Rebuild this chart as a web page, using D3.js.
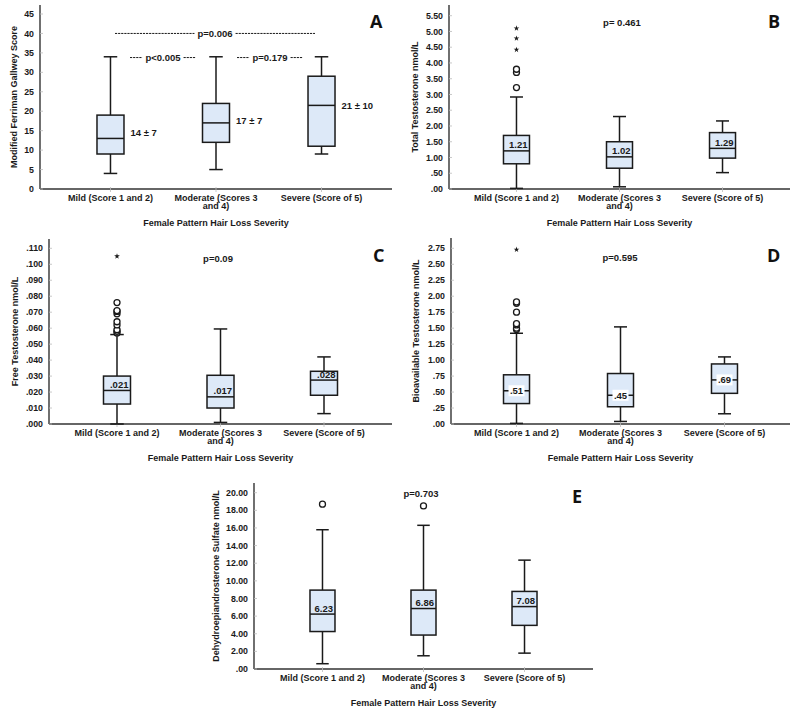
<!DOCTYPE html>
<html><head><meta charset="utf-8">
<script src="https://cdn.jsdelivr.net/npm/d3@7"></script>
<style>body{margin:0;background:#fff}svg{display:block}</style>
</head><body>
<svg id="c" width="800" height="714"></svg>
<script>
// ---------- DATA ----------
const categories = ["Mild (Score 1 and 2)", "Moderate (Scores 3 and 4)", "Severe (Score of 5)"];
const xTitle = "Female Pattern Hair Loss Severity";

// Panel A: Modified Ferriman Gallwey Score
const fgLow = [4, 5, 9];
const fgQ1 = [9, 12, 11];
const fgMedian = [13, 17, 21.5];
const fgQ3 = [19, 22, 29];
const fgHigh = [34, 34, 34];
const fgTicks = [0, 5, 10, 15, 20, 25, 30, 35, 40, 45];
const fgMeanSd = ["14 \u00B1 7", "17 \u00B1 7", "21 \u00B1 10"];
const fgMeanSdAt = [14.5, 17.5, 21.5];

// Panel B: Total Testosterone
const ttLow = [0.02, 0.07, 0.52];
const ttQ1 = [0.80, 0.66, 0.98];
const ttMedian = [1.21, 1.02, 1.29];
const ttQ3 = [1.70, 1.50, 1.79];
const ttHigh = [2.92, 2.30, 2.16];
const ttCircles = [[0, 3.22], [0, 3.70], [0, 3.80]];
const ttStars = [[0, 4.42], [0, 4.78], [0, 5.10]];
const ttTicks = [0, 0.5, 1, 1.5, 2, 2.5, 3, 3.5, 4, 4.5, 5, 5.5];
const ttLabels = ["1.21", "1.02", "1.29"];

// Panel C: Free Testosterone
const ftLow = [0.000, 0.001, 0.0065];
const ftQ1 = [0.0125, 0.010, 0.018];
const ftMedian = [0.021, 0.017, 0.0275];
const ftQ3 = [0.030, 0.0305, 0.033];
const ftHigh = [0.056, 0.0595, 0.042];
const ftCircles = [[0, 0.057], [0, 0.058], [0, 0.059], [0, 0.062], [0, 0.064], [0, 0.069], [0, 0.0705], [0, 0.071], [0, 0.076]];
const ftStars = [[0, 0.105]];
const ftTicks = [0, 0.01, 0.02, 0.03, 0.04, 0.05, 0.06, 0.07, 0.08, 0.09, 0.10, 0.11];
const ftLabels = [".021", ".017", ".028"];

// Panel D: Bioavailable Testosterone
const btLow = [0.01, 0.04, 0.16];
const btQ1 = [0.32, 0.27, 0.48];
const btMedian = [0.52, 0.45, 0.69];
const btQ3 = [0.77, 0.79, 0.94];
const btHigh = [1.42, 1.52, 1.05];
const btCircles = [[0, 1.48], [0, 1.50], [0, 1.55], [0, 1.57], [0, 1.75], [0, 1.89], [0, 1.91]];
const btStars = [[0, 2.73]];
const btTicks = [0, 0.25, 0.5, 0.75, 1, 1.25, 1.5, 1.75, 2, 2.25, 2.5, 2.75];
const btLabels = [".51", ".45", ".69"];

// Panel E: DHEA-S
const dsLow = [0.6, 1.5, 1.8];
const dsQ1 = [4.25, 3.85, 4.95];
const dsMedian = [6.23, 6.86, 7.08];
const dsQ3 = [8.95, 8.95, 8.8];
const dsHigh = [15.8, 16.3, 12.35];
const dsCircles = [[0, 18.7], [1, 18.5]];
const dsStars = [];
const dsTicks = [0, 2, 4, 6, 8, 10, 12, 14, 16, 18, 20];
const dsLabels = ["6.23", "6.86", "7.08"];

// ---------- DRAW ----------
const svg = d3.select("#c");
const FONT = "'Liberation Sans', Arial, sans-serif";
const BOXFILL = "#dde9f8";
const INK = "#1a1a1a";

function spssFmt(dec) {
  const f = d3.format("." + dec + "f");
  return v => f(v).replace(/^0\./, ".");
}

function panel(o) {
  const g = svg.append("g");
  const y = d3.scaleLinear().domain([0, o.max]).range([o.yBottom, o.yTop]);
  const x = d3.scalePoint().domain(categories).range([o.x0, o.x1]).padding(o.pad);

  // axes lines
  g.append("line").attr("x1", o.x0).attr("x2", o.x0).attr("y1", o.yBottom).attr("y2", o.axisTop)
    .attr("stroke", "#333").attr("stroke-width", 1.4);
  g.append("line").attr("x1", o.x0).attr("x2", o.x1).attr("y1", o.yBottom).attr("y2", o.yBottom)
    .attr("stroke", "#333").attr("stroke-width", 1.4);

  // y ticks
  const yt = g.selectAll(".yt").data(o.ticks).enter().append("g");
  yt.append("line").attr("x1", o.x0).attr("x2", o.x0 + 3).attr("y1", d => y(d)).attr("y2", d => y(d))
    .attr("stroke", "#bbb").attr("stroke-width", 0.8);
  yt.append("text").attr("x", o.x0 - 6).attr("y", d => y(d)).attr("dy", "0.35em")
    .attr("text-anchor", "end").attr("font-family", FONT).attr("font-weight", "bold")
    .attr("font-size", 8.8).attr("fill", INK).text(o.fmt);

  // y title
  g.append("text").attr("transform", `translate(${o.yTitleX},${(o.yBottom + o.axisTop) / 2}) rotate(-90)`)
    .attr("text-anchor", "middle").attr("dy", "0.35em").attr("font-family", FONT).attr("font-weight", "bold")
    .attr("font-size", 9).attr("fill", INK).text(o.yTitle);

  // x ticks & labels
  categories.forEach((c, i) => {
    g.append("line").attr("x1", x(c)).attr("x2", x(c)).attr("y1", o.yBottom - 2).attr("y2", o.yBottom + 3)
      .attr("stroke", "#bbb").attr("stroke-width", 0.8);
    const lines = c === "Moderate (Scores 3 and 4)" ? ["Moderate (Scores 3", "and 4)"] : [c];
    lines.forEach((l, j) => {
      g.append("text").attr("x", x(c)).attr("y", o.yBottom + 11.5 + j * 8.5)
        .attr("text-anchor", "middle").attr("font-family", FONT).attr("font-weight", "bold")
        .attr("font-size", 9).attr("fill", INK).text(l);
    });
  });
  g.append("text").attr("x", (o.x0 + o.x1) / 2).attr("y", o.yBottom + 37)
    .attr("text-anchor", "middle").attr("font-family", FONT).attr("font-weight", "bold")
    .attr("font-size", 9).attr("fill", INK).text(xTitle);

  // boxes
  const bw = o.bw;
  categories.forEach((c, i) => {
    const cx = x(c);
    const ln = (x1, y1, x2, y2) => g.append("line").attr("x1", x1).attr("y1", y1).attr("x2", x2).attr("y2", y2)
      .attr("stroke", INK).attr("stroke-width", 1.5);
    ln(cx, y(o.high[i]), cx, y(o.q3[i]));
    ln(cx, y(o.q1[i]), cx, y(o.low[i]));
    ln(cx - bw / 4, y(o.high[i]), cx + bw / 4, y(o.high[i]));
    ln(cx - bw / 4, y(o.low[i]), cx + bw / 4, y(o.low[i]));
    g.append("rect").attr("x", cx - bw / 2).attr("y", y(o.q3[i])).attr("width", bw)
      .attr("height", y(o.q1[i]) - y(o.q3[i])).attr("fill", BOXFILL).attr("stroke", INK).attr("stroke-width", 1.5);
    ln(cx - bw / 2, y(o.med[i]), cx + bw / 2, y(o.med[i]));

    if (o.labels && o.labelStyle === "above") {
      g.append("text").attr("x", cx + bw / 2 - 2).attr("y", y(o.med[i]) - 2.5)
        .attr("text-anchor", "end").attr("font-family", FONT).attr("font-weight", "bold")
        .attr("font-size", 9.5).attr("fill", INK).text(o.labels[i]);
    } else if (o.labels && o.labelStyle === "center") {
      g.append("rect").attr("x", cx - 8).attr("y", y(o.med[i]) - 5.5).attr("width", 16).attr("height", 11)
        .attr("fill", "#fff");
      g.append("text").attr("x", cx).attr("y", y(o.med[i])).attr("dy", "0.36em")
        .attr("text-anchor", "middle").attr("font-family", FONT).attr("font-weight", "bold")
        .attr("font-size", 9.5).attr("fill", INK).text(o.labels[i]);
    }
  });

  // outliers
  (o.circles || []).forEach(d => {
    g.append("circle").attr("cx", x(categories[d[0]])).attr("cy", y(d[1])).attr("r", 3)
      .attr("fill", "#fff").attr("stroke", INK).attr("stroke-width", 1.3);
  });
  (o.stars || []).forEach(d => {
    g.append("path").attr("d", d3.symbol(d3.symbolStar).size(10)())
      .attr("transform", `translate(${x(categories[d[0]])},${y(d[1])})`).attr("fill", INK);
  });

  // panel letter
  g.append("text").attr("x", o.letterX).attr("y", o.letterY).attr("font-family", "'Open Sans', sans-serif")
    .attr("font-weight", "bold").attr("font-size", 18).attr("fill", "#111").text(o.letter);

  return { g, x, y };
}

// Panel A
const A = panel({ x0: 40, x1: 392, pad: 0.668, yBottom: 189, yTop: 14, axisTop: 5, max: 45,
  ticks: fgTicks, fmt: d3.format("d"), yTitle: "Modified Ferriman Gallwey Score", yTitleX: 14, bw: 27,
  low: fgLow, q1: fgQ1, med: fgMedian, q3: fgQ3, high: fgHigh, letter: "A", letterX: 370, letterY: 28 });
categories.forEach((c, i) => {
  A.g.append("text").attr("x", A.x(c) + 20).attr("y", A.y(fgMeanSdAt[i])).attr("dy", "0.35em")
    .attr("font-family", FONT).attr("font-weight", "bold").attr("font-size", 9.5).attr("fill", INK).text(fgMeanSd[i]);
});
function pBracket(g, xa, xb, yy, label) {
  const xm = (xa + xb) / 2;
  const t = g.append("text").attr("x", xm).attr("y", yy).attr("dy", "0.35em").attr("text-anchor", "middle")
    .attr("font-family", FONT).attr("font-weight", "bold").attr("font-size", 9.5).attr("fill", INK).text(label);
  const w = t.node().getComputedTextLength();
  [[xa, xm - w / 2 - 3], [xm + w / 2 + 3, xb]].forEach(([p, q]) => {
    g.append("line").attr("x1", p).attr("x2", q).attr("y1", yy).attr("y2", yy)
      .attr("stroke", INK).attr("stroke-width", 1).attr("stroke-dasharray", "2.2,0.9");
  });
}
pBracket(A.g, 115, 315, A.y(40), "p=0.006");
pBracket(A.g, 130, 196, A.y(33.8), "p<0.005");
pBracket(A.g, 237, 303, A.y(33.8), "p=0.179");

// Panel B
const B = panel({ x0: 449, x1: 790, pad: 0.655, yBottom: 189, yTop: 15.7, axisTop: 5, max: 5.5,
  ticks: ttTicks, fmt: spssFmt(2), yTitle: "Total Testosterone nmol/L", yTitleX: 415, bw: 26,
  low: ttLow, q1: ttQ1, med: ttMedian, q3: ttQ3, high: ttHigh, circles: ttCircles, stars: ttStars,
  labels: ttLabels, labelStyle: "above", letter: "B", letterX: 768, letterY: 28 });
B.g.append("text").attr("x", 622).attr("y", 26).attr("text-anchor", "middle").attr("font-family", FONT)
  .attr("font-weight", "bold").attr("font-size", 9.5).attr("fill", INK).text("p= 0.461");

// Panel C
const C = panel({ x0: 49, x1: 392, pad: 0.657, yBottom: 424, yTop: 248.3, axisTop: 239, max: 0.11,
  ticks: ftTicks, fmt: spssFmt(3), yTitle: "Free Testosterone nmol/L", yTitleX: 15, bw: 27,
  low: ftLow, q1: ftQ1, med: ftMedian, q3: ftQ3, high: ftHigh, circles: ftCircles, stars: ftStars,
  labels: ftLabels, labelStyle: "above", letter: "C", letterX: 373, letterY: 262 });
C.g.append("text").attr("x", 218).attr("y", 262).attr("text-anchor", "middle").attr("font-family", FONT)
  .attr("font-weight", "bold").attr("font-size", 9.5).attr("fill", INK).text("p=0.09");

// Panel D
const D = panel({ x0: 451, x1: 790, pad: 0.63, yBottom: 424, yTop: 248.3, axisTop: 238, max: 2.75,
  ticks: btTicks, fmt: spssFmt(2), yTitle: "Bioavailable Testosterone nmol/L", yTitleX: 416, bw: 26,
  low: btLow, q1: btQ1, med: btMedian, q3: btQ3, high: btHigh, circles: btCircles, stars: btStars,
  labels: btLabels, labelStyle: "center", letter: "D", letterX: 767, letterY: 262 });
D.g.append("text").attr("x", 620).attr("y", 261).attr("text-anchor", "middle").attr("font-family", FONT)
  .attr("font-weight", "bold").attr("font-size", 9.5).attr("fill", INK).text("p=0.595");

// Panel E
const E = panel({ x0: 254, x1: 593, pad: 0.678, yBottom: 669, yTop: 492.7, axisTop: 483, max: 20,
  ticks: dsTicks, fmt: spssFmt(2), yTitle: "Dehydroepiandrosterone Sulfate nmol/L", yTitleX: 216, bw: 25,
  low: dsLow, q1: dsQ1, med: dsMedian, q3: dsQ3, high: dsHigh, circles: dsCircles, stars: dsStars,
  labels: dsLabels, labelStyle: "above", letter: "E", letterX: 572, letterY: 503 });
E.g.append("text").attr("x", 421).attr("y", 497).attr("text-anchor", "middle").attr("font-family", FONT)
  .attr("font-weight", "bold").attr("font-size", 9.5).attr("fill", INK).text("p=0.703");
</script>
</body></html>
